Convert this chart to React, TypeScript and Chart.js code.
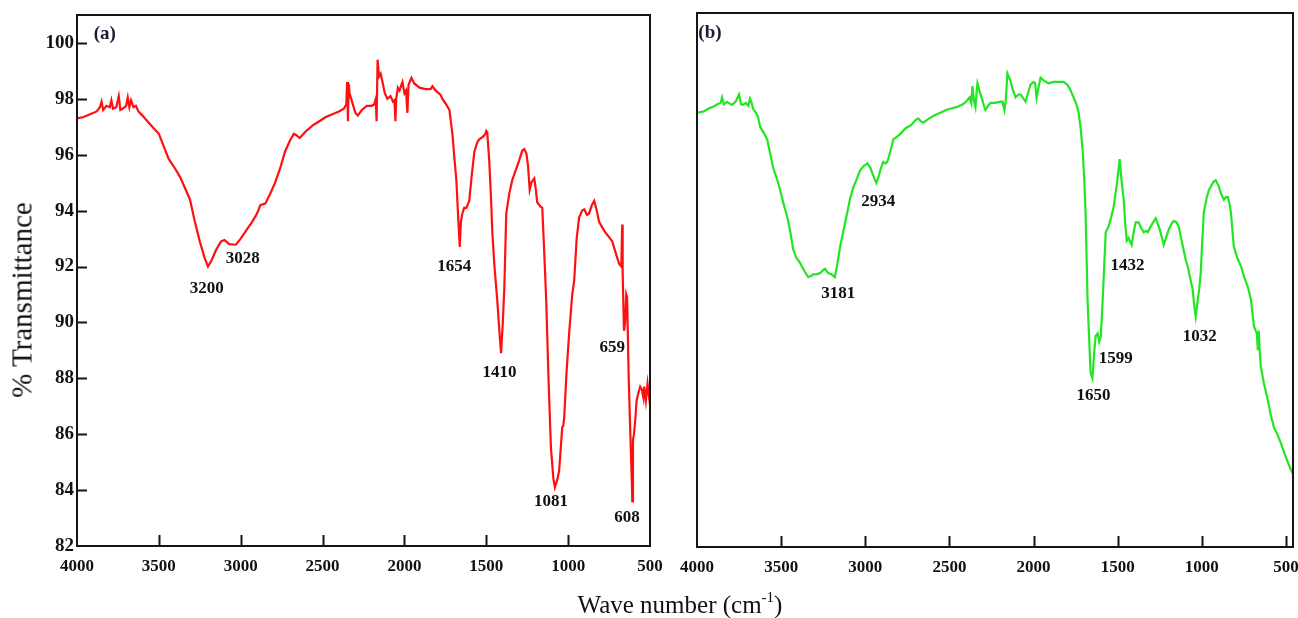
import React, { useEffect, useRef } from 'react';
import { Chart, registerables } from 'chart.js';
Chart.register(...registerables);

// ---------- data: panel (a) ----------
const wnA = [4000,3960,3920,3880,3860,3850,3840,3820,3800,3790,3780,3760,3745,3735,3720,3700,3690,3680,3670,3655,3640,3625,3600,3570,3540,3500,3470,3440,3400,3370,3340,3310,3280,3250,3220,3200,3180,3150,3120,3100,3070,3030,3000,2960,2930,2900,2880,2850,2820,2790,2760,2730,2700,2675,2660,2640,2600,2560,2520,2480,2440,2400,2370,2355,2350,2345,2340,2335,2320,2300,2285,2260,2230,2200,2185,2175,2170,2164,2155,2145,2134,2120,2104,2085,2070,2061,2055,2050,2040,2030,2012,2000,1990,1982,1975,1957,1940,1908,1870,1840,1829,1810,1780,1768,1745,1725,1707,1695,1683,1672,1662,1655,1646,1635,1622,1604,1590,1573,1555,1543,1520,1505,1500,1494,1482,1470,1463,1450,1433,1420,1410,1400,1390,1378,1360,1341,1320,1299,1280,1268,1255,1245,1235,1225,1207,1198,1189,1170,1158,1146,1134,1120,1105,1090,1081,1065,1055,1045,1036,1030,1024,1010,994,975,963,948,933,915,902,885,872,855,841,825,811,792,770,750,731,710,689,675,670,667,659,652,645,640,630,620,612,608,604,598,590,582,570,560,550,540,535,525,515,505,500];
const tA = [97.3,97.35,97.45,97.55,97.7,97.9,97.6,97.75,97.7,97.95,97.65,97.7,98.1,97.6,97.65,97.75,98.05,97.7,97.95,97.7,97.75,97.55,97.4,97.2,97.0,96.75,96.3,95.85,95.5,95.2,94.8,94.4,93.6,92.9,92.3,92.0,92.2,92.6,92.9,92.95,92.8,92.78,93.0,93.35,93.6,93.9,94.2,94.25,94.6,95.0,95.5,96.1,96.5,96.75,96.7,96.6,96.85,97.05,97.2,97.35,97.45,97.55,97.65,97.8,98.6,97.2,98.55,98.2,97.9,97.5,97.4,97.6,97.75,97.75,97.8,98.0,97.2,99.4,98.8,98.9,98.6,98.2,98.0,98.1,97.9,97.95,97.2,98.0,98.4,98.3,98.6,98.2,98.3,97.5,98.5,98.75,98.55,98.4,98.35,98.35,98.45,98.3,98.15,98.0,97.8,97.6,96.75,95.9,95.1,93.8,92.7,93.6,93.9,94.1,94.1,94.35,95.2,96.1,96.45,96.55,96.65,96.75,96.85,96.8,95.8,94.3,93.2,92.0,90.8,89.7,88.9,89.9,91.2,93.9,94.6,95.1,95.45,95.8,96.15,96.2,96.05,95.6,94.75,95.0,95.15,94.8,94.3,94.15,94.1,92.5,90.8,88.0,85.5,84.4,84.1,84.4,84.7,85.5,86.25,86.3,86.6,88.2,89.6,91.0,91.5,93.0,93.75,94.0,94.05,93.85,93.9,94.2,94.35,94.0,93.6,93.4,93.2,93.05,92.9,92.5,92.1,92.0,93.5,91.8,89.7,90.0,91.0,90.9,88.0,86.0,84.5,83.6,85.8,86.0,86.5,87.2,87.5,87.7,87.6,87.3,87.7,87.2,87.8,87.3,87.5];

// ---------- data: panel (b) ----------
const wnB = [4000,3960,3930,3905,3880,3860,3851,3840,3821,3800,3792,3770,3750,3738,3726,3710,3695,3685,3675,3667,3650,3637,3625,3600,3583,3565,3548,3525,3506,3485,3464,3445,3429,3410,3387,3360,3339,3320,3310,3290,3268,3250,3238,3228,3220,3200,3181,3165,3149,3128,3107,3090,3071,3050,3030,3010,2988,2970,2958,2945,2934,2920,2911,2900,2893,2880,2869,2850,2833,2810,2792,2760,2730,2714,2700,2685,2670,2655,2620,2590,2554,2520,2490,2453,2420,2400,2393,2380,2370,2363,2355,2345,2338,2333,2320,2304,2295,2286,2270,2256,2230,2200,2185,2173,2165,2155,2145,2137,2125,2107,2090,2077,2060,2048,2035,2018,2000,1990,1982,1972,1958,1940,1911,1880,1850,1821,1798,1780,1762,1745,1732,1720,1708,1698,1690,1679,1670,1661,1650,1640,1631,1619,1610,1600,1589,1580,1571,1554,1540,1524,1505,1488,1478,1464,1455,1446,1435,1425,1417,1405,1393,1375,1360,1345,1330,1321,1300,1274,1262,1250,1237,1226,1210,1196,1180,1167,1150,1137,1125,1113,1095,1084,1070,1054,1045,1036,1030,1024,1015,1006,998,988,972,958,940,930,917,900,887,869,857,845,835,827,810,790,768,748,726,708,690,680,673,667,662,655,649,630,607,590,571,550,530,510,488,470,458];
const tB = [97.45,97.5,97.6,97.66,97.75,97.8,98.0,97.75,97.84,97.75,97.73,97.85,98.1,97.75,97.73,97.8,97.7,97.95,97.8,97.6,97.45,97.3,96.95,96.7,96.5,96.0,95.5,95.1,94.7,94.2,93.75,93.2,92.6,92.3,92.1,91.8,91.6,91.65,91.7,91.7,91.75,91.85,91.9,91.8,91.75,91.7,91.6,92.1,92.7,93.3,93.9,94.4,94.8,95.1,95.4,95.55,95.65,95.5,95.3,95.1,94.95,95.2,95.4,95.6,95.7,95.65,95.7,96.1,96.5,96.6,96.7,96.9,97.0,97.1,97.2,97.25,97.15,97.1,97.25,97.35,97.45,97.55,97.6,97.66,97.75,97.85,97.9,98.0,97.8,98.4,97.9,97.65,98.2,98.5,98.2,97.9,97.7,97.55,97.7,97.8,97.8,97.84,97.85,97.55,97.9,98.85,98.7,98.6,98.3,98.0,98.1,98.1,97.95,97.85,98.1,98.45,98.55,98.5,97.98,98.3,98.7,98.6,98.5,98.55,98.55,98.55,98.44,98.25,98.0,97.75,97.45,96.9,96.1,95.0,93.75,90.8,89.5,88.2,88.0,88.9,89.5,89.6,89.3,89.5,90.8,92.0,93.2,93.4,93.7,94.1,94.9,95.8,95.1,94.35,93.5,92.9,93.0,92.85,92.75,93.2,93.55,93.55,93.35,93.2,93.25,93.2,93.45,93.7,93.5,93.3,93.0,92.75,93.05,93.3,93.5,93.6,93.55,93.4,93.05,92.7,92.2,92.0,91.6,91.15,90.6,90.2,90.5,90.8,91.2,91.75,92.8,93.9,94.4,94.7,94.9,95.0,95.05,94.85,94.6,94.35,94.45,94.45,94.2,93.9,92.7,92.3,92.0,91.6,91.25,90.8,89.85,89.7,89.6,89.0,89.7,88.9,88.4,87.8,87.2,86.7,86.25,86.0,85.7,85.35,85.0,84.75,84.6];

// ---------- ticks ----------
const xTickValues = [4000, 3500, 3000, 2500, 2000, 1500, 1000, 500];
const yTickValues = [82, 84, 86, 88, 90, 92, 94, 96, 98, 100];

// ---------- peak annotations (text, wavenumber, transmittance) ----------
const peakTextA = ['3200', '3028', '1654', '1410', '659', '1081', '608'];
const peakWnA = [3207, 2988, 1695, 1420, 731, 1104, 640];
const peakTA = [91.2, 92.3, 92.0, 88.2, 89.1, 83.6, 83.0];

const peakTextB = ['3181', '2934', '1432', '1599', '1650', '1032'];
const peakWnB = [3161, 2923, 1441, 1512, 1643, 1012];
const peakTB = [91.0, 94.3, 92.0, 88.7, 87.4, 89.5];

const SERIF = '"Liberation Serif", "Times New Roman", serif';

function makeOverlay(panelLabel: string, labelWn: number, labelT: number, texts: string[], wns: number[], ts: number[], showYTicks: boolean) {
  return {
    id: 'overlay',
    afterDatasetsDraw(chart: any) {
      const { ctx, chartArea: a, scales } = chart;
      const xs = scales.x;
      const ys = scales.y;
      ctx.save();
      ctx.strokeStyle = '#151515';
      ctx.lineWidth = 2;
      ctx.strokeRect(a.left, a.top, a.right - a.left, a.bottom - a.top);
      ctx.beginPath();
      xTickValues.forEach((v) => {
        if (v > xs.min && v < xs.max) {
          const px = Math.round(xs.getPixelForValue(v)) + 0.5;
          ctx.moveTo(px, a.bottom);
          ctx.lineTo(px, a.bottom - 11);
        }
      });
      if (showYTicks) {
        yTickValues.forEach((v) => {
          if (v > ys.min && v < ys.max) {
            const py = Math.round(ys.getPixelForValue(v)) + 0.5;
            ctx.moveTo(a.left, py);
            ctx.lineTo(a.left + 10, py);
          }
        });
      }
      ctx.stroke();
      ctx.fillStyle = '#111';
      ctx.font = 'bold 17px ' + SERIF;
      ctx.textAlign = 'center';
      ctx.textBaseline = 'middle';
      texts.forEach((t, i) => {
        ctx.fillText(t, xs.getPixelForValue(wns[i]), ys.getPixelForValue(ts[i]));
      });
      ctx.fillStyle = '#1c1c36';
      ctx.font = 'bold 19px ' + SERIF;
      ctx.fillText(panelLabel, xs.getPixelForValue(labelWn), ys.getPixelForValue(labelT));
      ctx.restore();
    },
  };
}

function buildConfig(wn: number[], t: number[], color: string, xMin: number, showY: boolean, padding: any, overlay: any) {
  return {
    type: 'line',
    data: {
      datasets: [
        {
          data: wn.map((w, i) => ({ x: w, y: t[i] })),
          borderColor: color,
          borderWidth: 2.2,
          pointRadius: 0,
          tension: 0,
          fill: false,
        },
      ],
    },
    options: {
      animation: false,
      responsive: false,
      maintainAspectRatio: false,
      layout: { padding },
      plugins: { legend: { display: false }, tooltip: { enabled: false } },
      scales: {
        x: {
          type: 'linear',
          reverse: true,
          min: xMin,
          max: 4000,
          grid: { display: false, drawTicks: false },
          border: { display: false },
          afterBuildTicks: (s: any) => {
            s.ticks = xTickValues.filter((v) => v >= s.min && v <= s.max).map((v) => ({ value: v }));
          },
          afterFit: (s: any) => {
            s.height = 40;
            s.paddingLeft = 0;
            s.paddingRight = 0;
          },
          ticks: {
            autoSkip: false,
            maxRotation: 0,
            padding: 10,
            color: '#111',
            font: { family: SERIF, size: 17, weight: 'bold' },
            callback: (v: any) => String(v),
          },
        },
        y: {
          type: 'linear',
          min: 82,
          max: 101,
          display: showY,
          grid: { display: false, drawTicks: false },
          border: { display: false },
          afterBuildTicks: (s: any) => {
            s.ticks = yTickValues.map((v) => ({ value: v }));
          },
          afterFit: (s: any) => {
            s.width = showY ? 77 : 0;
          },
          ticks: {
            padding: 3,
            color: '#111',
            font: { family: SERIF, size: 19, weight: 'bold' },
            callback: (v: any) => String(v),
          },
        },
      },
    },
    plugins: [overlay],
  } as any;
}

export default function App() {
  const leftRef = useRef<HTMLCanvasElement>(null);
  const rightRef = useRef<HTMLCanvasElement>(null);

  useEffect(() => {
    const left = new Chart(
      leftRef.current as HTMLCanvasElement,
      buildConfig(wnA, tA, '#ff1010', 500, true, { left: 0, top: 15, right: 30, bottom: 32 },
        makeOverlay('(a)', 3830, 100.3, peakTextA, peakWnA, peakTA, true))
    );
    const right = new Chart(
      rightRef.current as HTMLCanvasElement,
      buildConfig(wnB, tB, '#22e622', 458, false, { left: 37, top: 13, right: 5, bottom: 31 },
        makeOverlay('(b)', 3923, 100.3, peakTextB, peakWnB, peakTB, false))
    );
    return () => {
      left.destroy();
      right.destroy();
    };
  }, []);

  return (
    <div style={{ position: 'absolute', left: 0, top: 0, width: 1298, height: 618, background: '#fff', overflow: 'hidden' }}>
      <canvas ref={leftRef} width={680} height={618} style={{ position: 'absolute', left: 0, top: 0, width: 680, height: 618 }} />
      <canvas ref={rightRef} width={638} height={618} style={{ position: 'absolute', left: 660, top: 0, width: 638, height: 618 }} />
      <div
        style={{
          position: 'absolute',
          left: 22,
          top: 300,
          transform: 'translate(-50%, -50%) rotate(-90deg)',
          whiteSpace: 'nowrap',
          fontFamily: SERIF,
          fontSize: 29,
          color: '#111',
          lineHeight: 1,
        }}
      >
        % Transmittance
      </div>
      <div
        style={{
          position: 'absolute',
          left: 680,
          top: 604,
          transform: 'translate(-50%, -50%)',
          whiteSpace: 'nowrap',
          fontFamily: SERIF,
          fontSize: 25,
          color: '#111',
          lineHeight: 1,
        }}
      >
        Wave number (cm<sup style={{ fontSize: 15, verticalAlign: 'top', position: 'relative', top: -2 }}>-1</sup>)
      </div>
    </div>
  );
}
